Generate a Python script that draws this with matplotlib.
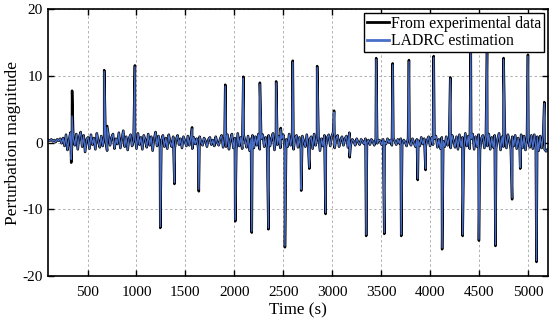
import numpy as np
import matplotlib
matplotlib.use('Agg')
import matplotlib.pyplot as plt

plt.rcParams['font.family'] = ['Liberation Serif', 'DejaVu Serif']
plt.rcParams['axes.unicode_minus'] = False

# baseline perturbation, read every 15 s from 100 s to 5200 s
base_t = np.arange(100, 5201, 15)
base_v = [
    0.4, 0.3, 0.5, 0.2, 0.4, 0.1, 0.5, 0.3, 0.6, -0.1,
    0.7, -0.5, 1.2, -1.1, 0.4, 1.5, -0.8, 0.6, -0.4, 1.3,
    -1.0, 0.9, 1.6, -0.6, 1.1, -1.4, 0.5, 0.8, -0.9, 1.2,
    -0.3, 0.7, -1.0, 1.4, 0.2, -0.7, 1.0, -0.5, 0.9, 0.3,
    -1.2, 1.1, -0.4, 0.8, 1.3, -0.9, 0.6, -0.2, 1.5, -0.8,
    0.5, 1.8, -0.6, 0.9, -1.1, 0.7, 1.2, -0.5, 0.3, 1.0,
    -0.9, 1.4, -0.3, 0.8, -1.0, 1.1, 0.4, -0.7, 1.3, -0.4,
    0.9, -1.2, 0.6, 1.6, -0.5, 1.0, -0.8, 0.4, 1.1, -0.6,
    0.7, -0.9, 1.2, 0.1, -0.6, 0.9, -1.0, 0.5, 1.1, -0.3,
    0.6, -0.8, 0.9, 0.2, -0.5, 1.0, -0.4, 0.7, -0.9, 0.8,
    -0.2, 0.6, -0.7, 0.9, 0.1, -0.4, 0.7, 0.3, -0.6, 0.5,
    0.8, -0.3, 0.4, -0.5, 0.9, 0.0, -0.4, 0.6, 1.1, -0.7,
    0.9, -0.6, 1.2, -1.0, 0.5, 1.3, -0.8, 0.7, -1.1, 1.4,
    -0.5, 0.8, -0.9, 1.2, 0.3, -0.7, 1.0, -1.2, 0.6, 1.1,
    -0.8, 0.9, -0.4, 1.3, -1.0, 0.6, 1.2, -0.6, 0.8, -0.9,
    1.1, -0.5, 0.7, 1.4, -1.1, 0.9, -0.3, 1.0, -0.8, 0.6,
    1.2, -0.9, 0.5, -0.6, 1.3, -0.4, 0.9, -1.0, 0.7, 1.1,
    -0.7, 0.8, -1.1, 1.0, 0.2, -0.6, 1.2, -0.8, 0.5, 0.9,
    -0.9, 1.3, -0.4, 0.7, 1.0, -1.2, 0.6, -0.5, 1.1, -0.7,
    0.8, 1.2, -0.5, 0.9, 1.6, -0.8, 0.6, 1.1, -0.6, 0.4,
    0.9, -0.4, 0.6, 1.0, -0.7, 1.5, -0.3, 0.5, 0.2, -0.4,
    0.6, 0.1, -0.3, 0.5, 0.2, -0.2, 0.6, 0.0, 0.4, -0.3,
    0.5, 0.2, -0.4, 0.6, -0.1, 0.4, 0.3, -0.3, 0.5, 0.1,
    -0.2, 0.6, 0.0, 0.4, -0.4, 0.7, 0.2, -0.3, 0.5, -0.1,
    0.6, -0.3, 0.4, 0.1, -0.5, 0.7, 0.2, -0.4, 0.6, 0.0,
    -0.6, 0.5, 0.3, -0.5, 0.8, -0.2, 0.6, -0.6, 0.4, 0.9,
    -0.5, 0.8, -0.3, 0.6, 1.0, -0.7, 0.5, -0.9, 0.8, 0.2,
    -0.6, 0.9, -0.4, 0.7, -0.8, 1.1, 0.3, -0.7, 0.9, -1.0,
    1.2, -0.6, 0.8, -1.1, 1.4, -0.5, 1.0, -0.9, 0.6, 1.3,
    -1.0, 0.9, -0.6, 1.2, -1.2, 0.7, 1.1, -0.8, 1.0, -0.5,
    1.3, -1.0, 0.8, -0.7, 1.1, -0.9, 0.6, 1.4, -1.1, 0.9,
    -0.6, 1.0, -0.8, 1.2, 0.4, -1.0, 0.9, -0.5, 1.1, -0.9,
    0.7, -0.6, 1.2, -0.8, 1.0, -1.1, 0.8, 0.3, -0.7, 1.1,
    -0.9, 1.2, -0.6, 0.9, -1.2, 1.0, -0.8, 1.1, -1.0, -1.3,
    -1.0,
]

# spikes (time, experimental peak, LADRC estimated peak)
spike_t = [333, 342, 670, 700, 984, 1243, 1388, 1568, 1637, 1907,
           2009, 2092, 2178, 2261, 2348, 2427, 2474, 2517, 2597, 2683,
           2766, 2846, 2932, 3019, 3178, 3347, 3449, 3532, 3618, 3705,
           3784, 3874, 3954, 4037, 4123, 4206, 4333, 4416, 4499, 4582,
           4668, 4751, 4838, 4921, 5000, 5087, 5167]
spike_exp = [-3.0, 7.8, 10.9, 2.5, 11.6, -12.8, -6.2, 2.3, -7.3, 8.7,
             -11.8, 9.9, -13.5, 9.0, -13.0, 9.2, 2.2, -15.7, 12.3, -7.2,
             -3.9, 11.5, -10.7, 4.8, -2.2, -14.0, 12.7, -13.7, 11.9, -14.0,
             12.4, -5.6, -4.1, 13.0, -16.0, 9.8, -14.0, 14.2, -14.7, 13.7,
             -15.5, 12.7, -8.5, -3.9, 13.2, -17.9, 6.1]
spike_est = [-2.5, 4.0, 10.7, 2.3, 11.4, -12.6, -6.0, 2.1, -7.0, 8.5,
             -11.6, 9.7, -13.3, 8.8, -12.8, 9.0, 2.0, -15.5, 12.1, -7.0,
             -3.7, 11.3, -10.5, 4.6, -2.0, -13.8, 12.5, -13.5, 11.7, -13.8,
             12.2, -5.4, -3.9, 12.8, -15.8, 9.6, -13.8, 14.0, -14.5, 13.5,
             -15.3, 12.5, -8.3, -3.7, 13.0, -17.7, 5.9]

t_all = np.concatenate([base_t, spike_t])
order = np.argsort(t_all, kind='stable')
exp_v = np.concatenate([base_v, spike_exp])[order]
est_v = np.concatenate([base_v, spike_est])[order]
t_all = t_all[order]

fig = plt.figure(figsize=(5.5, 3.25), dpi=100)
ax = fig.add_axes([0.088, 0.151, 0.9075, 0.82])

ax.plot(t_all, exp_v, color='black', lw=1.8, label='From experimental data')
ax.plot(t_all, est_v, color='#4a6fc9', lw=0.9, label='LADRC estimation')

ax.set_xlim(100, 5200)
ax.set_ylim(-20, 20)
ax.set_xticks([500, 1000, 1500, 2000, 2500, 3000, 3500, 4000, 4500, 5000])
ax.set_yticks([-20, -10, 0, 10, 20])
ax.grid(True, color='#b0b0b0', ls=(0, (2.5, 2.5)), lw=0.7)
ax.tick_params(direction='in', top=True, right=True, labelsize=11, length=4, width=1)
ax.tick_params(axis='x', pad=7)
ax.tick_params(axis='y', pad=4)
for s in ax.spines.values():
    s.set_linewidth(1.2)

ax.set_xlabel('Time (s)', fontsize=12.3, labelpad=3)
ax.set_ylabel('Perturbation magnitude', fontsize=12.5, labelpad=1)

leg = ax.legend(loc='upper right', fontsize=11.3, handlelength=1.45, handletextpad=0.1,
                borderaxespad=0.25, borderpad=0.15, labelspacing=0.1,
                fancybox=False, framealpha=1)
leg.get_frame().set_edgecolor('black')
leg.get_frame().set_linewidth(1.0)
for h in leg.get_lines():
    h.set_linewidth(2.0)

fig.savefig('out.png', dpi=100)
